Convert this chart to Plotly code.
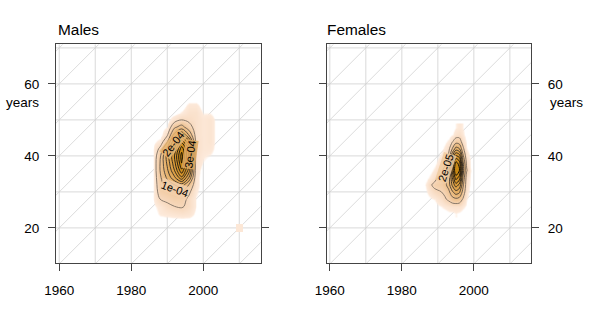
import numpy as np
import plotly.graph_objects as go

# ---------------- data ----------------
# Males: density (units of 1e-5), rows = ages, columns = calendar years
male_years = [1984, 1986, 1988, 1990, 1992, 1994, 1996, 1998, 2000, 2002, 2004]
male_ages = [22, 24, 26, 28, 30, 32, 34, 36, 38, 40, 42, 44, 46, 48, 50, 52, 54, 56]
male_density = [
    [0, 0, 0, 0, 0, 0, 0, 0, 0, 0, 0],              # 22
    [0, 0, 1.5, 2, 2.5, 3, 2.5, 0.5, 0, 0, 0],      # 24
    [0, 0.5, 2, 4, 5, 5.5, 4, 1, 0, 0, 0],          # 26
    [0, 1, 5, 6, 7, 7, 4, 1, 0, 0, 0],              # 28
    [0, 1, 7, 8, 9, 10, 6, 1.5, 0, 0, 0],           # 30
    [0, 1, 8, 12, 15, 18, 10, 2, 0, 0, 0],          # 32
    [0, 1, 9, 16, 24, 34, 20, 2, 0, 0, 0],          # 34
    [0, 1, 10, 19, 30, 44, 28, 2.5, 0, 0, 0],       # 36
    [0, 1, 10, 21, 33, 50, 32, 3, 1, 0, 0],         # 38
    [0, 1, 9, 22, 35, 52, 34, 3, 1.5, 1, 0],        # 40
    [0, 1, 6, 16, 30, 48, 34, 3.5, 2, 2, 0],        # 42
    [0, 0.5, 2, 9, 24, 38, 26, 3.5, 2, 2.5, 0],     # 44
    [0, 0, 0, 4, 16, 24, 14, 3, 2, 2.5, 0],         # 46
    [0, 0, 0, 1, 9, 12, 7, 3, 2, 2.5, 0],           # 48
    [0, 0, 0, 0, 3, 5, 4, 3, 2, 2.5, 0],            # 50
    [0, 0, 0, 0, 0, 1.5, 3, 3, 1, 1, 0],            # 52
    [0, 0, 0, 0, 0, 0, 2, 2, 0, 0, 0],              # 54
    [0, 0, 0, 0, 0, 0, 0, 0, 0, 0, 0],              # 56
]
male_spot_years = [2008, 2010, 2012]
male_spot_ages = [18, 20, 22]
male_spot_density = [[0, 0, 0], [0, 2, 0], [0, 0, 0]]

# Females: density (units of 1e-6)
female_years = [1986, 1987, 1988, 1989, 1990, 1991, 1992, 1993, 1994, 1995,
                1996, 1997, 1998, 1999, 2000]
female_ages = [24, 26, 28, 30, 32, 34, 36, 38, 40, 42, 44, 46, 48]
female_density = [
    [0, 0, 0, 0, 0, 0, 0, 1, 1, 2, 1, 0, 0, 0, 0],              # 24
    [0, 0, 0, 0, 1, 2, 3, 4, 5, 5, 5, 3, 1, 0, 0],              # 26
    [0, 0, 1, 2, 4, 6, 9, 12, 16, 18, 16, 9, 2, 0, 0],          # 28
    [0, 2, 5, 8, 9, 10, 12, 17, 28, 36, 32, 16, 4, 0, 0],       # 30
    [1, 3, 9, 12, 13, 14, 17, 25, 42, 56, 48, 22, 5, 1, 0],     # 32
    [0, 1, 3, 6, 10, 11, 13, 22, 50, 76, 66, 28, 6, 1, 0],      # 34
    [0, 0, 1, 3, 6, 9, 12, 26, 62, 90, 80, 34, 11, 2, 0],       # 36
    [0, 0, 0, 1, 3, 6, 9, 20, 56, 84, 76, 32, 8, 1, 0],         # 38
    [0, 0, 0, 0, 1, 3, 6, 12, 38, 62, 55, 22, 4, 1, 0],         # 40
    [0, 0, 0, 0, 0, 1, 3, 7, 20, 34, 30, 12, 2, 0, 0],          # 42
    [0, 0, 0, 0, 0, 0, 1, 3, 9, 15, 14, 6, 1, 0, 0],            # 44
    [0, 0, 0, 0, 0, 0, 0, 0, 2, 5, 6, 3, 0, 0, 0],              # 46
    [0, 0, 0, 0, 0, 0, 0, 0, 0, 2, 3, 2, 0, 0, 0],              # 48
]

grid_years = [1960, 1970, 1980, 1990, 2000, 2010]
grid_ages = [10, 20, 30, 40, 50, 60, 70]
cohorts = [1890, 1900, 1910, 1920, 1930, 1940, 1950, 1960, 1970, 1980, 1990, 2000]
x_ticks = [1960, 1980, 2000]
y_ticks = [20, 40, 60]

# ---------------- styling ----------------
W, H = 590, 322
FONT = "Liberation Sans, Arial, Helvetica, sans-serif"
XR = [1959.1, 2015.9]
YR = [10.2, 71.0]
fill_scale = [
    [0.0, "rgba(253,234,219,0)"], [0.017, "rgba(253,234,219,0)"],
    [0.026, "rgba(253,234,219,1)"], [0.1, "rgb(247,216,188)"],
    [0.2, "rgb(238,195,146)"], [0.38, "rgb(228,174,100)"],
    [0.6, "rgb(217,155,58)"], [0.8, "rgb(207,143,34)"], [1.0, "rgb(196,134,14)"],
]
line_scale = [[0.0, "#7d6f62"], [0.3, "#3a322c"], [1.0, "#000000"]]

fig = go.Figure()


def add_panel(years, ages, dens, unit, start, size, end, xa, ya):
    z = np.array(dens, dtype=float) * unit
    fig.add_trace(go.Heatmap(
        x=years, y=ages, z=z, zsmooth="best", colorscale=fill_scale,
        zmin=0, zmax=z.max(), showscale=False, hoverinfo="skip",
        xaxis=xa, yaxis=ya))
    fig.add_trace(go.Contour(
        x=years, y=ages, z=z, colorscale=line_scale, showscale=False,
        contours=dict(coloring="lines", start=start * unit, end=end * unit,
                      size=size * unit, showlabels=False),
        line=dict(width=0.9, smoothing=1.0), hoverinfo="skip",
        xaxis=xa, yaxis=ya))


add_panel(male_years, male_ages, male_density, 1e-5, 5, 5, 50, "x", "y")
zs = np.array(male_spot_density, dtype=float) * 1e-5
fig.add_trace(go.Heatmap(
    x=male_spot_years, y=male_spot_ages, z=np.where(zs > 0, zs, np.nan),
    zsmooth=False, colorscale=fill_scale, zmin=0, zmax=52e-5, showscale=False,
    hoverinfo="skip", xaxis="x", yaxis="y"))
add_panel(female_years, female_ages, female_density, 1e-6, 10, 10, 80, "x2", "y2")

# grid lines (Lexis diagram)
shapes = []
for xr, yr in (("x", "y"), ("x2", "y2")):
    for g in grid_years:
        shapes.append(dict(type="line", xref=xr, yref=yr, x0=g, x1=g,
                           y0=YR[0], y1=YR[1], layer="below",
                           line=dict(color="#d9d9d9", width=1)))
    for a in grid_ages:
        shapes.append(dict(type="line", xref=xr, yref=yr, x0=XR[0], x1=XR[1],
                           y0=a, y1=a, layer="below",
                           line=dict(color="#d9d9d9", width=1)))
    for c in cohorts:
        shapes.append(dict(type="line", xref=xr, yref=yr,
                           x0=c + YR[0], y0=YR[0], x1=c + YR[1], y1=YR[1],
                           layer="below", line=dict(color="#cccccc", width=0.7)))

dom_m = [56 / W, 260.5 / W]
dom_f = [326.6 / W, 531.1 / W]
dom_y = [1 - 263.2 / H, 1 - 44.3 / H]

axis_common = dict(
    showgrid=False, zeroline=False, showline=True, linecolor="#444444",
    linewidth=1, ticks="outside", ticklen=7, tickcolor="#444444",
    automargin=False,
    tickfont=dict(family=FONT, size=13.5, color="#000000"),
)

fig.update_layout(
    width=W, height=H, margin=dict(l=0, r=0, t=0, b=0, autoexpand=False),
    paper_bgcolor="white", plot_bgcolor="white", showlegend=False,
    shapes=shapes,
    xaxis=dict(domain=dom_m, range=XR, tickvals=x_ticks, mirror=True,
               anchor="y", ticklabelstandoff=8, **axis_common),
    yaxis=dict(domain=dom_y, range=YR, tickvals=y_ticks, mirror="ticks",
               anchor="x", side="left", ticklabelstandoff=6, **axis_common),
    xaxis2=dict(domain=dom_f, range=XR, tickvals=x_ticks, mirror=True,
                anchor="y2", ticklabelstandoff=8, **axis_common),
    yaxis2=dict(domain=dom_y, range=YR, tickvals=y_ticks, mirror="ticks",
                anchor="x2", side="right", ticklabelstandoff=6, **axis_common),
)

ann = []
# panel titles
ann.append(dict(text="Males", xref="paper", yref="paper", x=56 / W, y=1 - 29.5 / H,
                xanchor="left", yanchor="middle", showarrow=False,
                font=dict(family=FONT, size=15.4, color="#000")))
ann.append(dict(text="Females", xref="paper", yref="paper", x=325 / W, y=1 - 29.5 / H,
                xanchor="left", yanchor="middle", showarrow=False,
                font=dict(family=FONT, size=15.4, color="#000")))
# "years" under the 60 tick label
ann.append(dict(text="years", xref="paper", yref="y", x=40.5 / W, y=60, yshift=-19,
                xanchor="right", yanchor="middle", showarrow=False,
                font=dict(family=FONT, size=13.5, color="#000")))
ann.append(dict(text="years", xref="paper", yref="y2", x=547.5 / W, y=60, yshift=-19,
                xanchor="left", yanchor="middle", showarrow=False,
                font=dict(family=FONT, size=13.5, color="#000")))
# contour labels (line broken under the label, as in base-R contour)
lab_font = dict(family=FONT, size=11, color="#000")
for txt, xr, yr, xx, yy, ang, bg in [
    ("2e-04", "x", "y", 1991.6, 43.4, -52, "rgba(232,182,115,0.85)"),
    ("3e-04", "x", "y", 1996.4, 40.5, -82, "rgba(226,172,98,0.85)"),
    ("1e-04", "x", "y", 1992.2, 30.9, 20, "rgba(243,208,172,0.85)"),
    ("2e-05", "x2", "y2", 1992.2, 36.6, -72, "rgba(240,203,160,0.85)"),
]:
    ann.append(dict(text=txt, xref=xr, yref=yr, x=xx, y=yy, textangle=ang,
                    showarrow=False, font=lab_font, bgcolor=bg, borderpad=0))
fig.update_layout(annotations=ann)

fig.write_html("out.html")
